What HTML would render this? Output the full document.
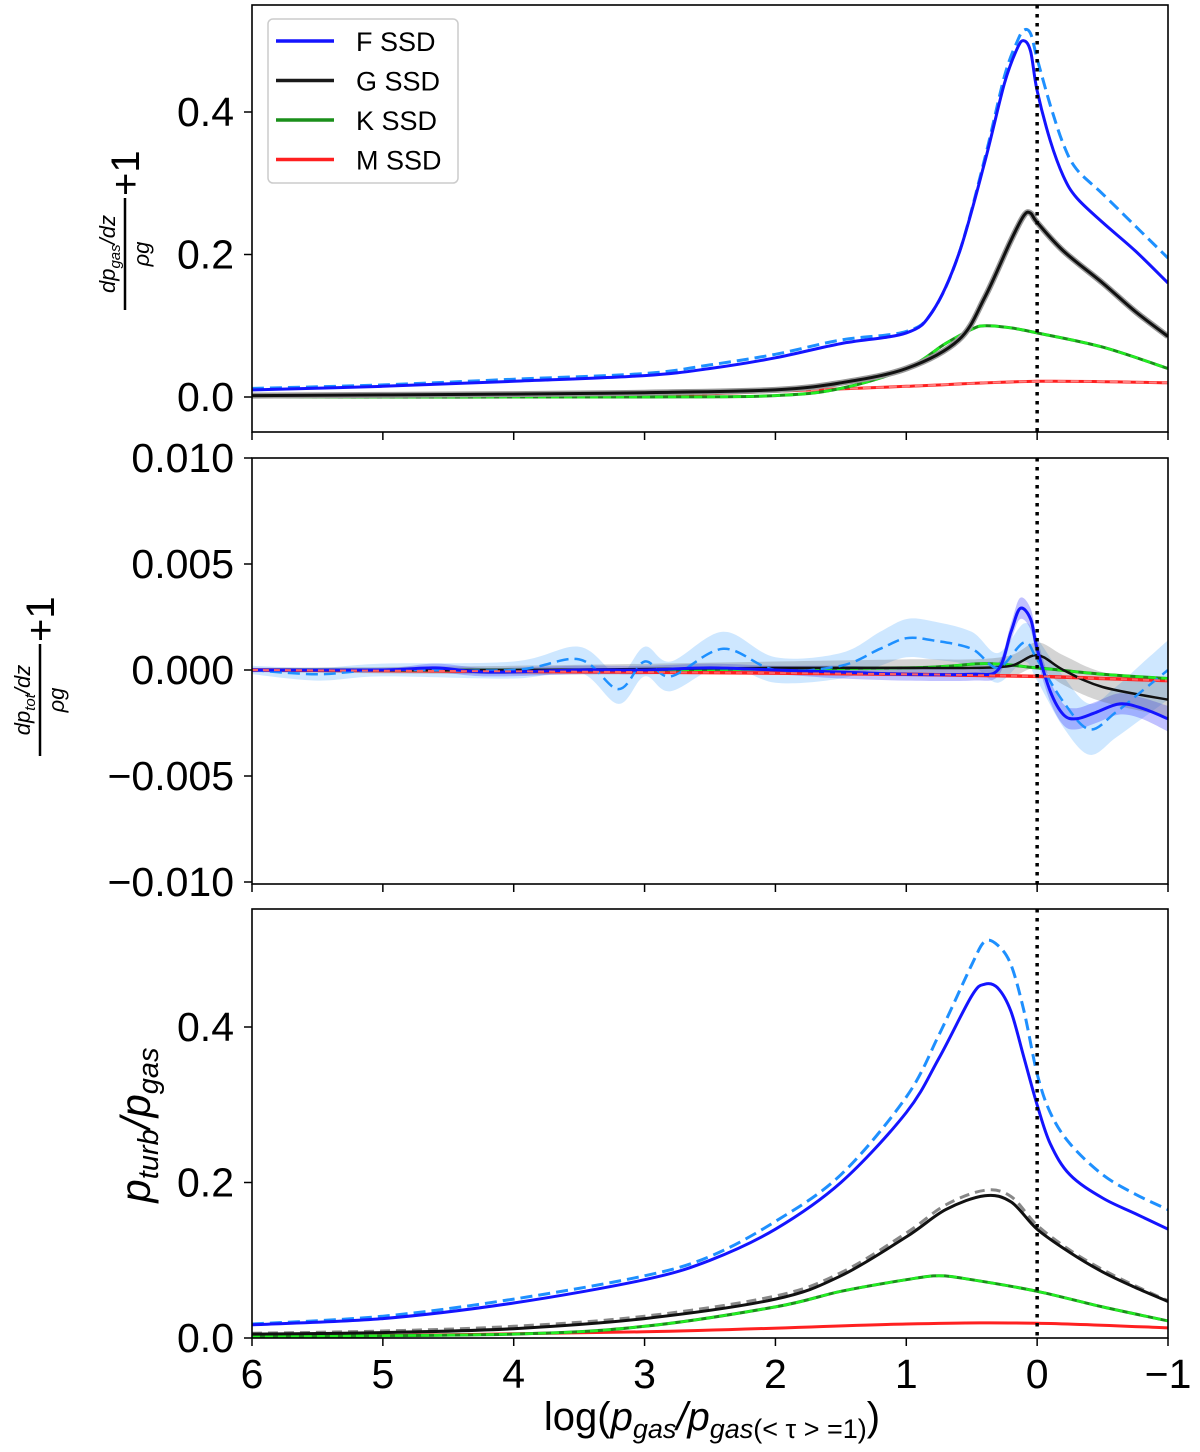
<!DOCTYPE html>
<html><head><meta charset="utf-8">
<style>
body{margin:0;background:#fff;}
svg{display:block;font-family:"Liberation Sans","DejaVu Sans",sans-serif;}
</style></head>
<body>
<svg id="chart" width="1200" height="1452" viewBox="0 0 1200 1452">
<g id="root"></g>
</svg>
<script>
// ---- data ----
const xTicks = [6,5,4,3,2,1,0,-1];
const xTickLabels = ["6","5","4","3","2","1","0","\u22121"];
const p1Ticks = [0.0,0.2,0.4];
const p1TickLabels = ["0.0","0.2","0.4"];
const p2Ticks = [0.01,0.005,0,-0.005,-0.01];
const p2TickLabels = ["0.010","0.005","0.000","\u22120.005","\u22120.010"];
const p3Ticks = [0.0,0.2,0.4];
const p3TickLabels = ["0.0","0.2","0.4"];

// panel 1: dp_gas/dz / rho g + 1
const p1F_x = [6,5,4,3,2.5,2,1.5,1,0.8,0.6,0.4,0.25,0.15,0.1,0.05,0,-0.1,-0.2,-0.3,-0.5,-0.75,-1];
const p1F_y = [0.01,0.015,0.022,0.03,0.04,0.055,0.075,0.09,0.12,0.2,0.33,0.44,0.49,0.5,0.485,0.43,0.36,0.31,0.28,0.245,0.205,0.16];
const p1Fd_x = [6,5,4,3,2.5,2,1.5,1,0.8,0.6,0.4,0.25,0.15,0.1,0.05,0,-0.1,-0.2,-0.3,-0.5,-0.75,-1];
const p1Fd_y = [0.012,0.017,0.025,0.033,0.045,0.06,0.08,0.092,0.12,0.2,0.335,0.45,0.5,0.515,0.51,0.475,0.41,0.355,0.32,0.285,0.24,0.195];
const p1G_x = [6,4,3,2,1.5,1,0.6,0.4,0.2,0.1,0.05,0,-0.2,-0.5,-0.75,-1];
const p1G_y = [0.002,0.004,0.006,0.01,0.02,0.04,0.08,0.14,0.22,0.255,0.258,0.245,0.205,0.16,0.12,0.085];
const p1K_x = [6,3,2,1.5,1,0.7,0.5,0.4,0.2,0,-0.5,-1];
const p1K_y = [0,0,0.002,0.012,0.04,0.075,0.095,0.1,0.097,0.09,0.07,0.04];
const p1M_x = [6,3,2,1,0,-1];
const p1M_y = [0,0.003,0.008,0.015,0.022,0.02];

// panel 2: dp_tot/dz / rho g + 1
const p2F_x = [6,5,4.6,4.2,3.5,3,2.5,2,1.5,1,0.5,0.3,0.2,0.13,0.05,0,-0.1,-0.2,-0.3,-0.45,-0.63,-0.8,-1];
const p2F_y = [0,0,0.0001,-0.0001,0,0,0.0001,0,-0.0001,-0.0002,-0.0002,0,0.0018,0.0029,0.0024,0.001,-0.001,-0.0021,-0.0023,-0.002,-0.0016,-0.0018,-0.0023];
const p2F_band = [0.0001,0.0001,0.0002,0.0002,0.0002,0.0002,0.0002,0.0002,0.0003,0.0003,0.0003,0.0003,0.0004,0.0005,0.0005,0.0005,0.0005,0.0005,0.0005,0.0005,0.0005,0.0005,0.0006];
const p2Fd_x = [6,5.5,5,4,3.5,3.2,3,2.8,2.4,2,1.5,1.2,1,0.8,0.5,0.3,0.1,0,-0.2,-0.4,-0.6,-0.8,-1];
const p2Fd_y = [0,-0.0002,0,0,0.0005,-0.0009,0.0004,-0.0003,0.001,0,0.0002,0.001,0.0015,0.0014,0.001,0.0001,0.0013,0.0005,-0.0015,-0.0028,-0.002,-0.001,0];
const p2Fd_band = [0.0002,0.0003,0.0003,0.0004,0.0006,0.0007,0.0007,0.0007,0.0008,0.0006,0.0006,0.0008,0.0009,0.0009,0.0008,0.0007,0.0009,0.001,0.0012,0.0012,0.0012,0.0013,0.0014];
const p2G_x = [6,4,2,1,0.5,0.2,0,-0.2,-0.5,-1];
const p2G_y = [0,0,0.0001,0.0001,0.0001,0.0002,0.0007,0,-0.0008,-0.0014];
const p2G_band = [0.0001,0.0002,0.0003,0.0004,0.0004,0.0005,0.0006,0.0007,0.0007,0.0008];
const p2K_x = [6,3,1,0.4,0,-0.5,-1];
const p2K_y = [0,0,0.0001,0.0003,0.0001,-0.0002,-0.0004];
const p2M_x = [6,3,1,0,-0.5,-1];
const p2M_y = [0,-0.0001,-0.0002,-0.0003,-0.0004,-0.0005];

// panel 3: p_turb / p_gas
const p3F_x = [6,5,4,3,2.5,2,1.5,1,0.75,0.5,0.4,0.3,0.2,0.1,0,-0.1,-0.25,-0.5,-0.75,-1];
const p3F_y = [0.017,0.025,0.045,0.075,0.1,0.14,0.2,0.29,0.36,0.44,0.455,0.45,0.42,0.36,0.3,0.25,0.21,0.18,0.16,0.14];
const p3Fd_x = [6,5,4,3,2.5,2,1.5,1,0.75,0.5,0.4,0.3,0.2,0.1,0,-0.1,-0.25,-0.5,-0.75,-1];
const p3Fd_y = [0.018,0.028,0.05,0.08,0.105,0.15,0.21,0.31,0.39,0.48,0.51,0.505,0.48,0.42,0.34,0.29,0.25,0.21,0.185,0.165];
const p3G_x = [6,5,4,3,2,1.5,1,0.7,0.4,0.2,0,-0.25,-0.5,-0.75,-1];
const p3G_y = [0.005,0.007,0.012,0.025,0.05,0.08,0.13,0.165,0.183,0.175,0.14,0.11,0.085,0.065,0.047];
const p3Gd_y = [0.006,0.009,0.015,0.028,0.054,0.084,0.135,0.171,0.19,0.182,0.145,0.113,0.088,0.067,0.048];
const p3K_x = [6,4,3,2,1.5,1,0.75,0.5,0,-0.5,-1];
const p3K_y = [0.002,0.005,0.015,0.04,0.06,0.075,0.08,0.075,0.06,0.04,0.022];
const p3M_x = [6,3,1,0,-1];
const p3M_y = [0.001,0.008,0.018,0.019,0.013];

const legendLabels = ["F SSD","G SSD","K SSD","M SSD"];
const legendColors = ["#1414ff","#1a1a1a","#1a8f1a","#ff2020"];

// ---- layout ----
const NS="http://www.w3.org/2000/svg";
const root=document.getElementById('root');
const X0=252,X1=1168;
const sx=v=>X0+(6-v)/7*(X1-X0);
const panels=[
 {top:5,bot:432,y0:397,yPer:(397-112)/0.4},
 {top:458,bot:884,y0:670,yPer:(670-564)/0.005},
 {top:909,bot:1338,y0:1338,yPer:(1338-1027)/0.4}
];
function mk(tag,attrs,parent){const e=document.createElementNS(NS,tag);for(const k in attrs)e.setAttribute(k,attrs[k]);(parent||root).appendChild(e);return e;}
function pathD(xs,ys,p){
 const pts=xs.map((x,i)=>[sx(x),p.y0-ys[i]*p.yPer]);
 let d='M'+pts[0][0].toFixed(1)+','+pts[0][1].toFixed(1);
 for(let i=0;i<pts.length-1;i++){
  const p0=pts[Math.max(0,i-1)],p1=pts[i],p2=pts[i+1],p3=pts[Math.min(pts.length-1,i+2)];
  const c1=[p1[0]+(p2[0]-p0[0])/6,p1[1]+(p2[1]-p0[1])/6];
  const c2=[p2[0]-(p3[0]-p1[0])/6,p2[1]-(p3[1]-p1[1])/6];
  d+=' C'+c1[0].toFixed(1)+','+c1[1].toFixed(1)+' '+c2[0].toFixed(1)+','+c2[1].toFixed(1)+' '+p2[0].toFixed(1)+','+p2[1].toFixed(1);
 }
 return d;
}
function line(xs,ys,p,color,w,dash,name,clip){
 const e=mk('path',{d:pathD(xs,ys,p),fill:'none',stroke:color,'stroke-width':w,'stroke-linejoin':'round','clip-path':'url(#'+clip+')'});
 if(dash)e.setAttribute('stroke-dasharray',dash);
 
 
 return e;
}
function band(xs,ys,bw,p,color,op,name,clip){
 const up=ys.map((y,i)=>y+bw[i]),lo=ys.map((y,i)=>y-bw[i]);
 const dU=pathD(xs,up,p);
 const rx=xs.slice().reverse(),rl=lo.slice().reverse();
 const dL=pathD(rx,rl,p).replace('M','L');
 const e=mk('path',{d:dU+' '+dL+' Z',fill:color,'fill-opacity':op,stroke:'none','clip-path':'url(#'+clip+')'});
 
 
}
const defs=mk('defs',{});
panels.forEach((p,i)=>{const c=mk('clipPath',{id:'c'+i},defs);mk('rect',{x:X0,y:p.top,width:X1-X0,height:p.bot-p.top},c);});

function axes(p,ticks,labels,pi,showX){
 const g=mk('g',{});
 
 
 ticks.forEach((t,i)=>{
  const y=p.y0-t*p.yPer;
  mk('line',{x1:X0-8,x2:X0,y1:y,y2:y,stroke:'#000','stroke-width':1.5},g);
  const tx=mk('text',{x:X0-18,y:y+14,'text-anchor':'end','font-size':41,fill:'#000'},g);
  tx.textContent=labels[i];
  
  
 });
 xTicks.forEach((t,i)=>{
  const x=sx(t);
  mk('line',{x1:x,x2:x,y1:p.bot,y2:p.bot+8,stroke:'#000','stroke-width':1.5},g);
  if(showX){
   const tx=mk('text',{x:x,y:p.bot+50,'text-anchor':'middle','font-size':41,fill:'#000'},g);
   tx.textContent=xTickLabels[i];
   
   
  }
 });
 mk('line',{x1:sx(0),x2:sx(0),y1:p.top,y2:p.bot,stroke:'#000','stroke-width':3.5,'stroke-dasharray':'3.5 5.5'},g);
 return g;
}
function frame(p){
 mk('rect',{x:X0,y:p.top,width:X1-X0,height:p.bot-p.top,fill:'none',stroke:'#000','stroke-width':1.6});
}

// ---- panel 1 ----
let P=panels[0];
line(p1M_x,p1M_y,P,'#ff2020',3,null,'p1-m-ssd','c0');
line(p1M_x,p1M_y,P,'#ff8080',2,'8 5','p1-m-ref','c0');
line(p1K_x,p1K_y,P,'#1a8f1a',3,null,'p1-k-ssd','c0');
line(p1K_x,p1K_y,P,'#22ee22',2.5,'8 5','p1-k-ref','c0');
line(p1G_x,p1G_y,P,'#999',6,null,'p1-g-band','c0');
line(p1G_x,p1G_y,P,'#111',3,null,'p1-g-ssd','c0');
line(p1Fd_x,p1Fd_y,P,'#1e90ff',3,'12 6','p1-f-ref','c0');
line(p1F_x,p1F_y,P,'#1414ff',3,null,'p1-f-ssd','c0');
axes(P,p1Ticks,p1TickLabels,0,false);
frame(P);

// ---- panel 2 ----
P=panels[1];
band(p2Fd_x,p2Fd_y,p2Fd_band,P,'#1e90ff',0.22,'p2-f-ref-band','c1');
band(p2F_x,p2F_y,p2F_band,P,'#3333ff',0.3,'p2-f-band','c1');
band(p2G_x,p2G_y,p2G_band,P,'#555',0.25,'p2-g-band','c1');
line(p2M_x,p2M_y,P,'#ff2020',3.5,null,'p2-m-ssd','c1');
line(p2K_x,p2K_y,P,'#1a8f1a',3,null,'p2-k-ssd','c1');
line(p2K_x,p2K_y,P,'#22ee22',2.5,'8 5','p2-k-ref','c1');
line(p2G_x,p2G_y,P,'#111',2.5,null,'p2-g-ssd','c1');
line(p2Fd_x,p2Fd_y,P,'#1e90ff',2.5,'12 6','p2-f-ref','c1');
line(p2F_x,p2F_y,P,'#1414ff',3,null,'p2-f-ssd','c1');
line(p2M_x,p2M_y,P,'#ff6060',2,'6 5','p2-m-ref','c1');
axes(P,p2Ticks,p2TickLabels,1,false);
frame(P);

// ---- panel 3 ----
P=panels[2];
line(p3M_x,p3M_y,P,'#ff2020',3,null,'p3-m-ssd','c2');
line(p3K_x,p3K_y,P,'#1a8f1a',3,null,'p3-k-ssd','c2');
line(p3K_x,p3K_y,P,'#22ee22',2.5,'8 5','p3-k-ref','c2');
line(p3G_x,p3Gd_y,P,'#888',3,'10 6','p3-g-ref','c2');
line(p3G_x,p3G_y,P,'#111',3,null,'p3-g-ssd','c2');
line(p3Fd_x,p3Fd_y,P,'#1e90ff',3,'12 6','p3-f-ref','c2');
line(p3F_x,p3F_y,P,'#1414ff',3,null,'p3-f-ssd','c2');
axes(P,p3Ticks,p3TickLabels,2,true);
frame(P);

// ---- legend ----
const lg=mk('g',{});


mk('rect',{x:268,y:19,width:190,height:164,rx:5,fill:'#fff',stroke:'#ccc','stroke-width':1.5},lg);
legendLabels.forEach((l,i)=>{
 const y=41+i*39.5;
 const ln=mk('line',{x1:276,x2:334,y1:y,y2:y,stroke:legendColors[i],'stroke-width':3.5},lg);
 
 
 const t=mk('text',{x:356,y:y+10,'font-size':27,fill:'#000'},lg);
 t.textContent=l;
 
 
});
</script>
<script>
const svgEl=document.getElementById('chart');
function addTitle(html){svgEl.insertAdjacentHTML('beforeend',html);}
addTitle(`<g transform="translate(125,254) rotate(-90)">
<text x="0" y="-10" text-anchor="middle" font-size="22" font-style="italic">dp<tspan font-size="15" dy="5">gas</tspan><tspan dy="-5">/dz</tspan></text>
<line x1="-56" x2="56" y1="0" y2="0" stroke="#000" stroke-width="2.5"/>
<text x="0" y="24" text-anchor="middle" font-size="22" font-style="italic">ρg</text>
<text x="58" y="14" font-size="40">+1</text></g>`);
addTitle(`<g transform="translate(40,700) rotate(-90)">
<text x="0" y="-10" text-anchor="middle" font-size="22" font-style="italic">dp<tspan font-size="15" dy="5">tot</tspan><tspan dy="-5">/dz</tspan></text>
<line x1="-56" x2="56" y1="0" y2="0" stroke="#000" stroke-width="2.5"/>
<text x="0" y="24" text-anchor="middle" font-size="22" font-style="italic">ρg</text>
<text x="58" y="14" font-size="40">+1</text></g>`);
addTitle(`<text transform="translate(150,1125) rotate(-90)" text-anchor="middle" font-size="42" font-style="italic">p<tspan font-size="29" dy="8">turb</tspan><tspan dy="-8">/p</tspan><tspan font-size="29" dy="8">gas</tspan></text>`);
addTitle(`<text x="712" y="1430" text-anchor="middle" font-size="40">log(<tspan font-style="italic">p</tspan><tspan font-size="27" dy="8" font-style="italic">gas</tspan><tspan dy="-8" font-style="italic">/p</tspan><tspan font-size="27" dy="8"><tspan font-style="italic">gas</tspan>(&lt; τ &gt; =1)</tspan><tspan dy="-8">)</tspan></text>`);
</script>
</body></html>
